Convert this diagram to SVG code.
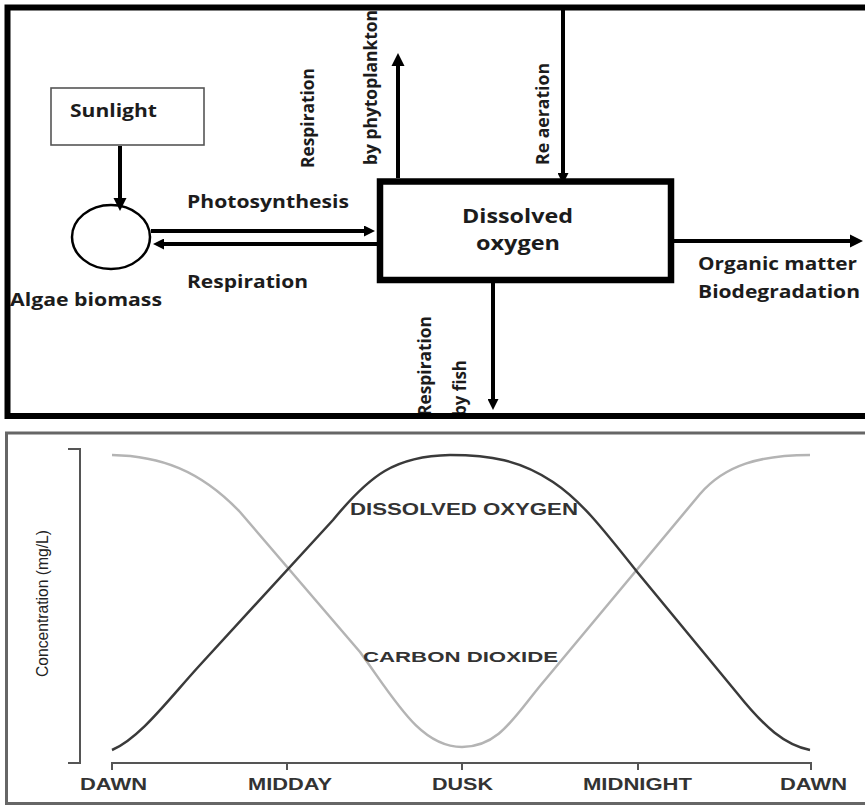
<svg xmlns="http://www.w3.org/2000/svg" width="865" height="806" viewBox="0 0 865 806">
<style>
.t{font-family:"Open Sans","Liberation Sans",sans-serif;font-weight:bold;font-size:17px;fill:#1c1c1c}
.big{font-size:20px}
.rot{font-size:18px}
.c{font-family:"Liberation Sans",Arial,sans-serif;font-weight:bold;fill:#333}
.ax{font-family:"Liberation Sans",Arial,sans-serif;fill:#222;font-size:17px}
.ln{stroke:#000;stroke-width:4;fill:none}
.frame{fill:none;stroke:#000;stroke-width:6}
.frame2{fill:none;stroke:#666;stroke-width:3}
.axis{fill:none;stroke:#555;stroke-width:2}
</style>
<defs>
<marker id="ah" viewBox="0 0 10 10" refX="0" refY="5" markerWidth="13" markerHeight="14" markerUnits="userSpaceOnUse" orient="auto"><path d="M0,0 L10,5 L0,10 z" fill="#000"/></marker>
<marker id="as" viewBox="0 0 10 10" refX="0" refY="5" markerWidth="12" markerHeight="11" markerUnits="userSpaceOnUse" orient="auto"><path d="M0,0 L10,5 L0,10 z" fill="#000"/></marker>
</defs>
<rect x="0" y="0" width="865" height="806" fill="#fff"/>

<!-- top panel -->
<g id="sunlight">
<rect x="51" y="88" width="153" height="57" fill="#fff" stroke="#555" stroke-width="1.6"/>
<text class="t" x="70" y="117" textLength="87" lengthAdjust="spacingAndGlyphs">Sunlight</text>
</g>
<g id="algae">
<ellipse cx="111" cy="237" rx="39" ry="32" fill="#fff" stroke="#000" stroke-width="2.5"/>
<text class="t" x="10" y="306" textLength="152" lengthAdjust="spacingAndGlyphs">Algae biomass</text>
</g>
<g id="dissolved-oxygen">
<rect x="380" y="181.5" width="291" height="98.5" fill="#fff" stroke="#000" stroke-width="6.5"/>
<text class="t big" x="462" y="223" textLength="111" lengthAdjust="spacingAndGlyphs">Dissolved</text>
<text class="t big" x="476" y="250" textLength="84" lengthAdjust="spacingAndGlyphs">oxygen</text>
</g>
<g id="connectors">
<line class="ln" x1="120" y1="146" x2="120" y2="198" marker-end="url(#ah)"/>
<line class="ln" x1="151" y1="231" x2="364" y2="231" marker-end="url(#as)"/>
<line class="ln" x1="377" y1="244" x2="164" y2="244" marker-end="url(#as)"/>
<line class="ln" x1="398" y1="178" x2="398" y2="66" marker-end="url(#ah)"/>
<line class="ln" x1="563" y1="10" x2="563" y2="173" marker-end="url(#as)"/>
<line class="ln" x1="671" y1="241" x2="850" y2="241" marker-end="url(#ah)"/>
<line class="ln" x1="493" y1="283" x2="493" y2="399" marker-end="url(#as)"/>
</g>
<g id="labels">
<text class="t" x="187" y="208" textLength="162" lengthAdjust="spacingAndGlyphs">Photosynthesis</text>
<text class="t" x="187" y="288" textLength="121" lengthAdjust="spacingAndGlyphs">Respiration</text>
<text class="t rot" transform="translate(314,168) rotate(-90)" textLength="100" lengthAdjust="spacingAndGlyphs">Respiration</text>
<text class="t rot" transform="translate(377,165) rotate(-90)" textLength="155" lengthAdjust="spacingAndGlyphs">by phytoplankton</text>
<text class="t rot" transform="translate(549,165) rotate(-90)" textLength="102" lengthAdjust="spacingAndGlyphs">Re aeration</text>
<text class="t" x="698" y="270" textLength="159" lengthAdjust="spacingAndGlyphs">Organic matter</text>
<text class="t" x="698" y="298" textLength="162" lengthAdjust="spacingAndGlyphs">Biodegradation</text>
<text class="t rot" transform="translate(431,416) rotate(-90)" textLength="100" lengthAdjust="spacingAndGlyphs">Respiration</text>
<text class="t rot" transform="translate(466,416) rotate(-90)" textLength="56" lengthAdjust="spacingAndGlyphs">by fish</text>
</g>
<path class="frame" d="M870,7.5 H7.5 V416 H870"/>

<!-- bottom panel -->
<path class="frame2" d="M870,433 H6.5 V803.5 H870"/>
<g id="chart">
<path class="axis" d="M68,449 H80 V763 H68"/>
<path class="axis" d="M112,770 V763 H811 V770 M287,763 V770 M462,763 V770 M638,763 V770"/>
<text class="ax" transform="translate(48,677) rotate(-90)" textLength="147" lengthAdjust="spacingAndGlyphs">Concentration (mg/L)</text>
<path d="M112,455 C160,456 200,470 240,512 L360,652 C395,700 420,747 462,747 C500,747 515,715 545,680 L700,494 C725,465 760,455 810,455" fill="none" stroke="#b4b4b4" stroke-width="2.5"/>
<path d="M112,750 C140,738 168,700 200,665 L333,520 C370,475 395,456 450,455 C490,455 520,460 553,482 C580,500 600,525 638,573 L737,693 C765,728 785,745 810,750" fill="none" stroke="#3a3a3a" stroke-width="2.5"/>
<text class="c" x="350" y="515" font-size="16" textLength="228" lengthAdjust="spacingAndGlyphs">DISSOLVED OXYGEN</text>
<text class="c" x="363" y="662" font-size="14" textLength="195" lengthAdjust="spacingAndGlyphs">CARBON DIOXIDE</text>
<text class="c" x="80" y="790" font-size="17" textLength="67" lengthAdjust="spacingAndGlyphs">DAWN</text>
<text class="c" x="248" y="790" font-size="17" textLength="84" lengthAdjust="spacingAndGlyphs">MIDDAY</text>
<text class="c" x="432" y="790" font-size="17" textLength="61" lengthAdjust="spacingAndGlyphs">DUSK</text>
<text class="c" x="583" y="790" font-size="17" textLength="109" lengthAdjust="spacingAndGlyphs">MIDNIGHT</text>
<text class="c" x="780" y="790" font-size="17" textLength="67" lengthAdjust="spacingAndGlyphs">DAWN</text>
</g>
</svg>
